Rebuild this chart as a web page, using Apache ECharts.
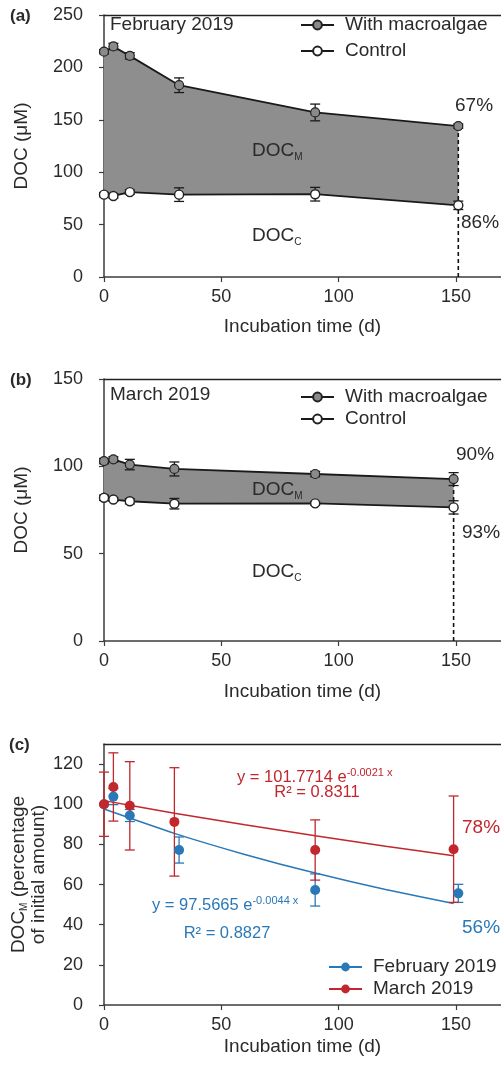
<!DOCTYPE html>
<html>
<head>
<meta charset="utf-8">
<script src="https://cdn.jsdelivr.net/npm/echarts@6/dist/echarts.min.js"></script>
<style>
  html, body { margin: 0; padding: 0; background: #fff; }
  #chart { width: 501px; height: 1069px; }
</style>
</head>
<body>
<div id="chart"></div>
<script>
// (a) February 2019
const febX = [0, 4, 11, 32, 90, 151];
const febMac = [215, 220, 211, 183, 157, 144];
const febMacErr = [2, 3, 3, 7, 8, 2];
const febCtrl = [78.6, 77.3, 81, 78.6, 79, 68.4];
const febCtrlErr = [2, 2, 2, 6.5, 6.5, 4];

// (b) March 2019
const marX = [0, 4, 11, 30, 90, 149];
const marMac = [103, 104, 101, 98.5, 95.6, 92.7];
const marMacErr = [1.5, 1.5, 3, 4, 1.5, 3.7];
const marCtrl = [82, 81, 80, 78.6, 78.8, 76.5];
const marCtrlErr = [1.5, 1, 1.5, 3, 1, 3.8];

// (c) DOC_M as % of initial amount
const febPct = [100, 103.8, 94.4, 77.2, 57.3, 55.6];
const febPctErr = [0, 4, 3, 6.5, 8, 4.5];
const marPct = [100, 108.6, 99.2, 91.2, 77.2, 77.6];
const marPctErr = [16, 17, 22, 27, 15, 26.5];

// exponential fit lines
const fitX = [0, 30, 60, 90, 120, 149];
const febFit = [97.6, 85.5, 75.0, 65.7, 57.5, 50.6];
const marFit = [101.8, 95.5, 89.8, 84.3, 79.1, 74.3];

const xTicks = [0, 50, 100, 150];

const FONT = 'Liberation Sans';
const TXT = '#2a2a2a';
const AX = '#3c3c3c';
const BLUE = '#2a78b8';
const RED = '#c1272d';
const GREY = '#8e8e8e';
const FS = 19;

const zip = (xs, ys) => xs.map((x, i) => [x, ys[i]]);
const zip3 = (xs, ys, es) => xs.map((x, i) => [x, ys[i], es[i]]).filter(d => d[2] > 0);

function bandItem(xs, top, bot) {
  return function (params, api) {
    const pts = [];
    for (let i = 0; i < xs.length; i++) pts.push(api.coord([xs[i], top[i]]));
    for (let j = xs.length - 1; j >= 0; j--) pts.push(api.coord([xs[j], bot[j]]));
    return { type: 'polygon', shape: { points: pts }, style: { fill: GREY } };
  };
}

function errItem(color) {
  return function (params, api) {
    const x = api.value(0), y = api.value(1), e = api.value(2);
    const hi = api.coord([x, y + e]);
    const lo = api.coord([x, y - e]);
    const w = 5;
    const st = { stroke: color, lineWidth: 1.3 };
    return {
      type: 'group',
      children: [
        { type: 'line', shape: { x1: hi[0], y1: hi[1], x2: lo[0], y2: lo[1] }, style: st },
        { type: 'line', shape: { x1: hi[0] - w, y1: hi[1], x2: hi[0] + w, y2: hi[1] }, style: st },
        { type: 'line', shape: { x1: lo[0] - w, y1: lo[1], x2: lo[0] + w, y2: lo[1] }, style: st }
      ]
    };
  };
}

function xAxes(grid, gap) {
  return [
    {
      gridIndex: grid, type: 'value', min: 0, max: 169.2, position: 'bottom',
      axisLine: { lineStyle: { color: AX, width: 1.5 } },
      axisTick: { length: 5, lineStyle: { color: AX, width: 1.2 }, customValues: xTicks },
      axisLabel: { fontFamily: FONT, fontSize: 18, color: TXT, margin: 11, customValues: xTicks },
      splitLine: { show: false },
      name: 'Incubation time (d)', nameLocation: 'middle', nameGap: gap,
      nameTextStyle: { fontFamily: FONT, fontSize: FS, color: TXT }
    },
    {
      gridIndex: grid, type: 'value', min: 0, max: 169.2, position: 'top',
      axisLine: { lineStyle: { color: '#222', width: 1.3 } },
      axisTick: { show: false }, axisLabel: { show: false }, splitLine: { show: false }
    }
  ];
}

function yAxis(grid, max, step, name, gap, extra) {
  const ticks = [];
  for (let v = 0; v <= max; v += step) ticks.push(v);
  return Object.assign({
    gridIndex: grid, type: 'value', min: 0, max: max,
    axisLine: { show: true, lineStyle: { color: AX, width: 1.5 } },
    axisTick: { show: true, length: 5, lineStyle: { color: AX, width: 1.2 }, customValues: ticks },
    axisLabel: { fontFamily: FONT, fontSize: 18, color: TXT, margin: 21, customValues: ticks },
    splitLine: { show: false },
    name: name, nameLocation: 'middle', nameGap: gap, nameMoveOverlap: false,
    nameTextStyle: { fontFamily: FONT, fontSize: FS, color: TXT }
  }, extra || {});
}

function docPanelSeries(xi, yi, xs, mac, macErr, ctrl, ctrlErr, dashX) {
  return [
    {
      type: 'custom', xAxisIndex: xi, yAxisIndex: yi, z: 1, silent: true,
      renderItem: bandItem(xs, mac, ctrl), data: [[0, 0]]
    },
    {
      type: 'line', xAxisIndex: xi, yAxisIndex: yi, z: 2, symbol: 'none', silent: true,
      lineStyle: { color: '#111', width: 1.6, type: [4, 3] },
      data: [[dashX, 0], [dashX, mac[mac.length - 1]]]
    },
    {
      type: 'custom', xAxisIndex: xi, yAxisIndex: yi, z: 3, silent: true,
      renderItem: errItem('#1a1a1a'), data: zip3(xs, mac, macErr).concat(zip3(xs, ctrl, ctrlErr))
    },
    {
      name: 'With macroalgae', type: 'line', xAxisIndex: xi, yAxisIndex: yi, z: 4,
      symbol: 'circle', symbolSize: 9,
      lineStyle: { color: '#1a1a1a', width: 1.8 },
      itemStyle: { color: '#8a8a8a', borderColor: '#222', borderWidth: 1.2 },
      data: zip(xs, mac)
    },
    {
      name: 'Control', type: 'line', xAxisIndex: xi, yAxisIndex: yi, z: 4,
      symbol: 'circle', symbolSize: 9,
      lineStyle: { color: '#1a1a1a', width: 1.8 },
      itemStyle: { color: '#ffffff', borderColor: '#222', borderWidth: 1.4 },
      data: zip(xs, ctrl)
    }
  ];
}

function legendAt(left, top, gap, names) {
  return {
    left: left, top: top, orient: 'vertical', selectedMode: false, padding: 0,
    itemWidth: 33, itemHeight: 11, itemGap: gap,
    data: names,
    lineStyle: { width: 2 },
    textStyle: { fontFamily: FONT, fontSize: FS, color: TXT, lineHeight: 20, padding: [0, 0, 0, 6] }
  };
}

function txt(x, y, text, opts) {
  return {
    type: 'text', x: x, y: y, z: 100,
    style: Object.assign({
      text: text, fill: TXT, font: FS + 'px "' + FONT + '"',
      textAlign: 'left', textVerticalAlign: 'middle', align: 'left', verticalAlign: 'middle'
    }, opts || {})
  };
}

const subRich = {
  b: { fontFamily: FONT, fontSize: FS, fill: TXT, lineHeight: 22 },
  s: { fontFamily: FONT, fontSize: 10, fill: TXT, lineHeight: 22, verticalAlign: 'bottom' }
};

function eqRich(color) {
  return {
    b: { fontFamily: FONT, fontSize: 16.5, fill: color, lineHeight: 20 },
    p: { fontFamily: FONT, fontSize: 11, fill: color, lineHeight: 20, verticalAlign: 'top' }
  };
}

const chart = echarts.init(document.getElementById('chart'), null, { renderer: 'canvas' });

const option = {
  animation: false,
  backgroundColor: '#fff',
  textStyle: { fontFamily: FONT },
  grid: [
    { left: 104, right: 0, top: 15, height: 262, outerBoundsMode: 'none' },
    { left: 104, right: 0, top: 379, height: 262, outerBoundsMode: 'none' },
    { left: 104, right: 0, top: 744, height: 261, outerBoundsMode: 'none' }
  ],
  xAxis: xAxes(0, 40).concat(xAxes(1, 41)).concat(xAxes(2, 32)),
  yAxis: [
    yAxis(0, 250, 50, 'DOC (\u03bcM)', 73),
    yAxis(1, 150, 50, 'DOC (\u03bcM)', 73),
    yAxis(2, 130, 20, '{b|DOC}{s|M}{b| (percentage}\n{b|of initial amount)}', 55, {
      nameTextStyle: {
        fontFamily: FONT, fontSize: FS, color: TXT, lineHeight: 20,
        rich: {
          b: { fontFamily: FONT, fontSize: FS, color: TXT, lineHeight: 20 },
          s: { fontFamily: FONT, fontSize: 10, color: TXT, lineHeight: 20, verticalAlign: 'bottom' }
        }
      }
    })
  ],
  legend: [
    legendAt(300, 15, 6, ['With macroalgae', 'Control']),
    legendAt(300, 387, 2, ['With macroalgae', 'Control']),
    legendAt(328, 957, 2, ['February 2019', 'March 2019'])
  ],
  series: []
    .concat(docPanelSeries(0, 0, febX, febMac, febMacErr, febCtrl, febCtrlErr, 151))
    .concat(docPanelSeries(2, 1, marX, marMac, marMacErr, marCtrl, marCtrlErr, 149))
    .concat([
      {
        type: 'line', xAxisIndex: 4, yAxisIndex: 2, z: 2, symbol: 'none', smooth: 0.2, silent: true,
        lineStyle: { color: BLUE, width: 1.5 }, data: zip(fitX, febFit)
      },
      {
        type: 'line', xAxisIndex: 4, yAxisIndex: 2, z: 2, symbol: 'none', smooth: 0.2, silent: true,
        lineStyle: { color: RED, width: 1.5 }, data: zip(fitX, marFit)
      },
      {
        type: 'custom', xAxisIndex: 4, yAxisIndex: 2, z: 3, silent: true,
        renderItem: errItem(BLUE), data: zip3(febX, febPct, febPctErr)
      },
      {
        type: 'custom', xAxisIndex: 4, yAxisIndex: 2, z: 3, silent: true,
        renderItem: errItem(RED), data: zip3(marX, marPct, marPctErr)
      },
      {
        name: 'February 2019', type: 'line', xAxisIndex: 4, yAxisIndex: 2, z: 4,
        symbol: 'circle', symbolSize: 10,
        lineStyle: { width: 0, color: BLUE }, itemStyle: { color: BLUE },
        data: zip(febX, febPct)
      },
      {
        name: 'March 2019', type: 'line', xAxisIndex: 4, yAxisIndex: 2, z: 4,
        symbol: 'circle', symbolSize: 10,
        lineStyle: { width: 0, color: RED }, itemStyle: { color: RED },
        data: zip(marX, marPct)
      }
    ]),
  graphic: [
    txt(10, 16, '(a)', { font: 'bold 17px "' + FONT + '"' }),
    txt(10, 380, '(b)', { font: 'bold 17px "' + FONT + '"' }),
    txt(9, 745, '(c)', { font: 'bold 17px "' + FONT + '"' }),
    txt(110, 25, 'February 2019'),
    txt(110, 395, 'March 2019'),
    txt(455, 106, '67%'),
    txt(461, 223, '86%'),
    txt(456, 455, '90%'),
    txt(462, 533, '93%'),
    txt(252, 151, '{b|DOC}{s|M}', { rich: subRich }),
    txt(252, 236, '{b|DOC}{s|C}', { rich: subRich }),
    txt(252, 490, '{b|DOC}{s|M}', { rich: subRich }),
    txt(252, 572, '{b|DOC}{s|C}', { rich: subRich }),
    txt(237, 777, '{b|y = 101.7714 e}{p|-0.0021 x}', { rich: eqRich(RED) }),
    txt(317, 792, 'R\u00b2 = 0.8311', { fill: RED, font: '16.5px "' + FONT + '"', textAlign: 'center', align: 'center' }),
    txt(152, 905, '{b|y = 97.5665 e}{p|-0.0044 x}', { rich: eqRich(BLUE) }),
    txt(227, 933, 'R\u00b2 = 0.8827', { fill: BLUE, font: '16.5px "' + FONT + '"', textAlign: 'center', align: 'center' }),
    txt(462, 828, '78%', { fill: RED }),
    txt(462, 928, '56%', { fill: BLUE })
  ]
};

chart.setOption(option);
</script>
</body>
</html>
